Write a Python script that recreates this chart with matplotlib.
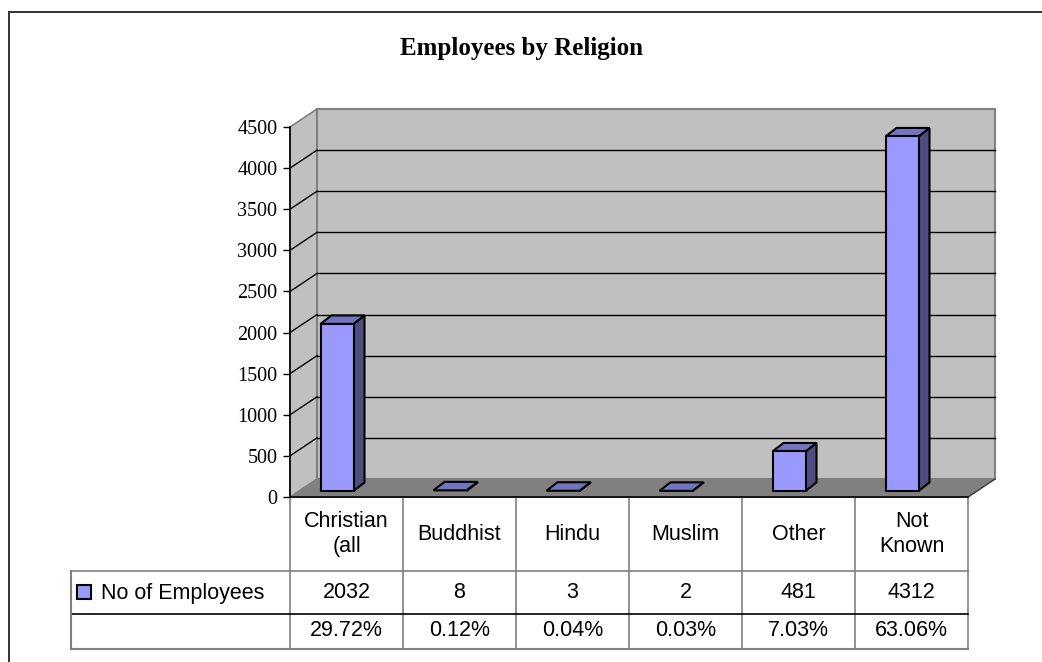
import matplotlib.pyplot as plt
from matplotlib.patches import Polygon, Rectangle

# data
categorias = ['Christian\n(all', 'Buddhist', 'Hindu', 'Muslim', 'Other', 'Not\nKnown']
empregados = [2032, 8, 3, 2, 481, 4312]
percentuais = ['29.72%', '0.12%', '0.04%', '0.03%', '7.03%', '63.06%']
serie = 'No of Employees'
titulo = 'Employees by Religion'
yticks = list(range(0, 4501, 500))

W, H = 1042, 662
fig = plt.figure(figsize=(W / 100, H / 100), dpi=100)

# eixo principal: frente do grafico 3D (pixels 290..968 x 497..127)
ax = fig.add_axes([290 / W, (H - 497) / H, (968 - 290) / W, (497 - 127) / H])
n = len(categorias)
ax.set_xlim(0, n)
ax.set_ylim(0, 4500)

sx = n / (968 - 290)      # unidades de x por pixel
sy = 4500 / (497 - 127)   # unidades de y por pixel

# profundidade 3D
dx, dy = 27 * sx, 18 * sy
cinza = '#C0C0C0'
borda = '#808080'

# chao, parede esquerda, parede do fundo
ax.add_patch(Polygon([(0, 0), (n, 0), (n + dx, dy), (dx, dy)], closed=True,
                     facecolor='#808080', edgecolor='#808080', lw=1, clip_on=False, zorder=1))
ax.add_patch(Polygon([(0, 0), (0, 4500), (dx, 4500 + dy), (dx, dy)], closed=True,
                     facecolor=cinza, edgecolor=borda, lw=1.2, clip_on=False, zorder=1))
ax.add_patch(Polygon([(dx, dy), (dx, 4500 + dy), (n + dx, 4500 + dy), (n + dx, dy)], closed=True,
                     facecolor=cinza, edgecolor=borda, lw=1.5, clip_on=False, zorder=1))
ax.plot([n, n + dx], [0, dy], color='#404040', lw=1, clip_on=False, zorder=2)

# linhas de grade
for v in yticks[1:-1]:
    ax.plot([0, dx], [v, v + dy], color='black', lw=1, clip_on=False, zorder=2)
    ax.plot([dx, n + dx], [v + dy, v + dy], color='black', lw=1, clip_on=False, zorder=2)

# barras 3D
bw = 33 * sx
desloc = -9.5 * sx
base = 6 * sy
tdx, tdy = 11 * sx, 8.5 * sy
for i, v in enumerate(empregados):
    x0 = i + 0.5 + desloc - bw / 2
    topo = base + v
    ax.add_patch(Polygon([(x0 + bw, base), (x0 + bw + tdx, base + tdy),
                          (x0 + bw + tdx, topo + tdy), (x0 + bw, topo)], closed=True,
                         facecolor='#4D4D80', edgecolor='black', lw=1.5, clip_on=False, zorder=3))
    ax.add_patch(Polygon([(x0, topo), (x0 + bw, topo), (x0 + bw + tdx, topo + tdy),
                          (x0 + tdx, topo + tdy)], closed=True,
                         facecolor='#7373BF', edgecolor='black', lw=1.5, clip_on=False, zorder=3))
    if v > 20:
        ax.add_patch(Rectangle((x0, base), bw, v, facecolor='#9999FF', edgecolor='black',
                               lw=1.5, clip_on=False, zorder=3))

# eixos
for s in ['top', 'right', 'bottom']:
    ax.spines[s].set_visible(False)
ax.spines['left'].set_color('black')
ax.spines['left'].set_linewidth(1.2)
ax.spines['left'].set_zorder(4)
ax.set_xticks([])
ax.set_yticks(yticks)
ax.set_yticklabels([str(t) for t in yticks], fontfamily='Liberation Serif', fontsize=14.5)
ax.tick_params(axis='y', direction='out', length=5, width=1, pad=4)
ax.plot([0, n], [0, 0], color='black', lw=1.2, clip_on=False, zorder=4)
ax.patch.set_visible(False)

# tabela de dados
r1, r2, r3 = -74 * sy, -117 * sy, -152 * sy
xl = -219 * sx
fonte = dict(fontfamily='Liberation Sans', fontsize=15.5, ha='center', va='center')
for i in range(n + 1):
    ax.plot([i, i], [0, r3], color=borda, lw=1.2, clip_on=False)
ax.plot([xl, n], [r1, r1], color=borda, lw=1.2, clip_on=False)
ax.plot([xl, n], [r2, r2], color='black', lw=1.2, clip_on=False)
ax.plot([xl, n], [r3, r3], color=borda, lw=1.5, clip_on=False)
ax.plot([xl, xl], [r1, r3], color=borda, lw=1.5, clip_on=False)

for i, c in enumerate(categorias):
    ax.text(i + 0.5, -37 * sy, c, linespacing=1.2, clip_on=False, **fonte)
    ax.text(i + 0.5, -95 * sy, str(empregados[i]), clip_on=False, **fonte)
    ax.text(i + 0.5, -134 * sy, percentuais[i], clip_on=False, **fonte)

ax.add_patch(Rectangle(((77 - 290) * sx, -102 * sy), 14 * sx, 14 * sy, facecolor='#9999FF',
                       edgecolor='black', lw=1.5, clip_on=False))
ax.text((101 - 290) * sx, -96 * sy, serie, fontfamily='Liberation Sans', fontsize=15.5,
        ha='left', va='center', clip_on=False)

# titulo e moldura
fig.text(521.5 / W, 1 - 48 / H, titulo, fontfamily='Liberation Serif', fontweight='bold',
         fontsize=18, ha='center', va='center')
fig.add_artist(Rectangle((9 / W, -0.1), 1.2, 1.1 - 12 / H, transform=fig.transFigure,
                         fill=False, edgecolor='#333333', lw=1.4))

plt.savefig('out.png', dpi=100)
